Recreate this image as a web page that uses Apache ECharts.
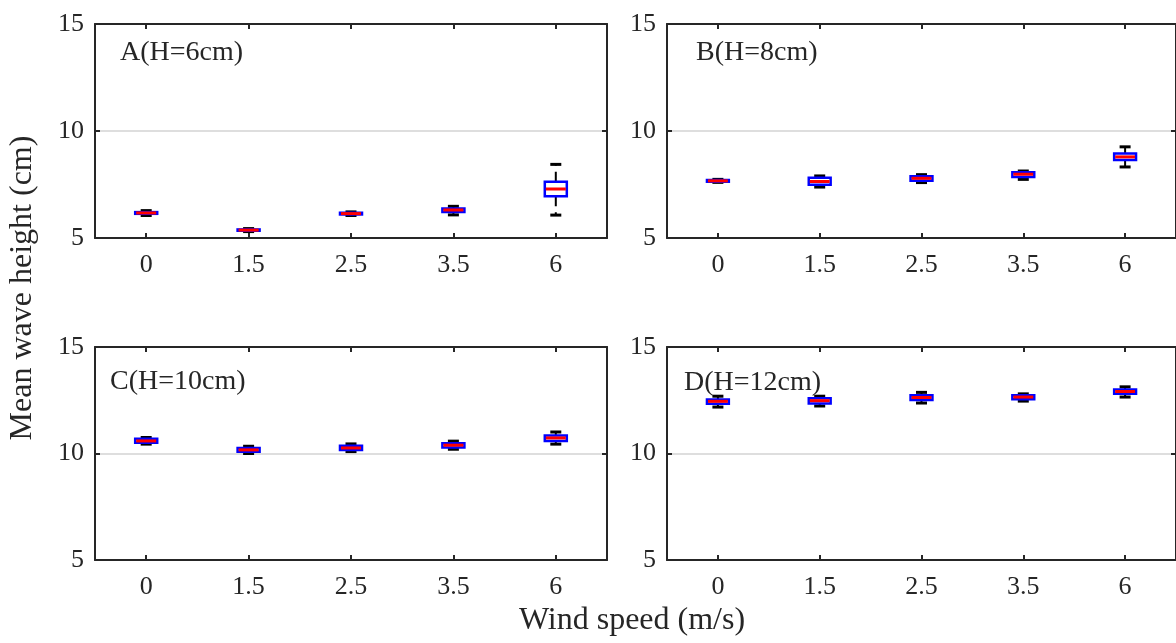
<!DOCTYPE html>
<html>
<head>
<meta charset="utf-8">
<script src="https://cdn.jsdelivr.net/npm/echarts@6/dist/echarts.min.js"></script>
<style>
html,body{margin:0;padding:0;background:#fff;}
#chart{width:1176px;height:643px;}
</style>
</head>
<body>
<div id="chart"></div>
<script>
// ---- data ----
const categories = ['0', '1.5', '2.5', '3.5', '6'];
const yTicks = [5, 10, 15];
const panelLabels = ['A(H=6cm)', 'B(H=8cm)', 'C(H=10cm)', 'D(H=12cm)'];
// each entry: [lower whisker, Q1, median, Q3, upper whisker]
const boxA = [
  [6.05, 6.13, 6.17, 6.21, 6.28],
  [5.30, 5.34, 5.37, 5.40, 5.44],
  [6.05, 6.10, 6.14, 6.18, 6.22],
  [6.08, 6.22, 6.31, 6.38, 6.48],
  [6.07, 6.95, 7.29, 7.63, 8.44]
];
const boxB = [
  [7.60, 7.63, 7.67, 7.71, 7.74],
  [7.38, 7.49, 7.64, 7.81, 7.90],
  [7.59, 7.68, 7.79, 7.88, 7.96],
  [7.74, 7.85, 7.98, 8.07, 8.13],
  [8.32, 8.64, 8.79, 8.95, 9.26]
];
const boxC = [
  [10.44, 10.50, 10.59, 10.69, 10.75],
  [10.00, 10.08, 10.17, 10.26, 10.34],
  [10.09, 10.16, 10.26, 10.36, 10.45],
  [10.20, 10.28, 10.39, 10.48, 10.58],
  [10.44, 10.59, 10.73, 10.84, 11.01]
];
const boxD = [
  [12.18, 12.34, 12.45, 12.54, 12.69],
  [12.23, 12.35, 12.48, 12.59, 12.69],
  [12.37, 12.51, 12.63, 12.74, 12.87],
  [12.46, 12.55, 12.65, 12.74, 12.80],
  [12.65, 12.80, 12.91, 13.00, 13.13]
];
const xTitle = 'Wind speed (m/s)';
const yTitle = 'Mean wave height (cm)';

// ---- layout ----
const FONT = 'Liberation Serif';
const TXT = '#262626';
const grids = [
  {left: 95, top: 24, width: 512, height: 214},
  {left: 667, top: 24, width: 512, height: 214},
  {left: 95, top: 347, width: 512, height: 213},
  {left: 667, top: 347, width: 512, height: 213}
];
const labelPos = [[120, 53], [696, 53], [110, 382], [684, 383]];
const panels = [boxA, boxB, boxC, boxD];

const axisLine = {show: true, onZero: false, lineStyle: {color: TXT, width: 2}};
const tick = {show: true, inside: true, length: 5, lineStyle: {color: TXT, width: 2}};

const xAxes = [], yAxes = [], series = [];
grids.forEach((g, i) => {
  xAxes.push({
    type: 'category', gridIndex: i, position: 'bottom', data: categories,
    axisLine: axisLine, axisTick: Object.assign({alignWithLabel: true}, tick),
    axisLabel: {fontFamily: FONT, fontSize: 26, color: TXT, margin: 14},
    splitLine: {show: false}
  });
  xAxes.push({
    type: 'category', gridIndex: i, position: 'top', data: categories,
    axisLine: axisLine, axisTick: Object.assign({alignWithLabel: true}, tick),
    axisLabel: {show: false}, splitLine: {show: false}
  });
  yAxes.push({
    type: 'value', gridIndex: i, position: 'left',
    min: yTicks[0], max: yTicks[yTicks.length - 1], interval: yTicks[1] - yTicks[0],
    axisLine: axisLine, axisTick: tick,
    axisLabel: {fontFamily: FONT, fontSize: 26, color: TXT, margin: 11},
    splitLine: {show: true, lineStyle: {color: '#dedede', width: 2}}
  });
  yAxes.push({
    type: 'value', gridIndex: i, position: 'right',
    min: yTicks[0], max: yTicks[yTicks.length - 1], interval: yTicks[1] - yTicks[0],
    axisLine: axisLine, axisTick: tick,
    axisLabel: {show: false}, splitLine: {show: false}
  });
  series.push({
    type: 'custom',
    xAxisIndex: i * 2, yAxisIndex: i * 2,
    data: panels[i].map((b, k) => [k].concat(b)),
    encode: {x: 0, y: [1, 2, 3, 4, 5]},
    z: 5,
    renderItem: function (params, api) {
      const c = api.value(0);
      const pMin = api.coord([c, api.value(1)]);
      const pQ1 = api.coord([c, api.value(2)]);
      const pMed = api.coord([c, api.value(3)]);
      const pQ3 = api.coord([c, api.value(4)]);
      const pMax = api.coord([c, api.value(5)]);
      const cx = pMed[0];
      const bw = api.size([1, 0])[0] * 0.215;
      const capW = 5.5;
      return {
        type: 'group',
        children: [
          {type: 'line', shape: {x1: cx, y1: pQ3[1], x2: cx, y2: pMax[1]},
           style: {stroke: '#000', lineWidth: 2, lineDash: [10, 6]}},
          {type: 'line', shape: {x1: cx, y1: pQ1[1], x2: cx, y2: pMin[1]},
           style: {stroke: '#000', lineWidth: 2, lineDash: [10, 6]}},
          {type: 'line', shape: {x1: cx - capW, y1: pMax[1], x2: cx + capW, y2: pMax[1]},
           style: {stroke: '#000', lineWidth: 3}},
          {type: 'line', shape: {x1: cx - capW, y1: pMin[1], x2: cx + capW, y2: pMin[1]},
           style: {stroke: '#000', lineWidth: 3}},
          {type: 'rect', shape: {x: cx - bw / 2, y: pQ3[1], width: bw, height: pQ1[1] - pQ3[1]},
           style: {stroke: '#0000ff', lineWidth: 2.5, fill: 'none'}},
          {type: 'line', shape: {x1: cx - bw / 2 + 1, y1: pMed[1], x2: cx + bw / 2 - 1, y2: pMed[1]},
           style: {stroke: '#ff0000', lineWidth: 3}}
        ]
      };
    }
  });
});

const graphics = panelLabels.map((t, i) => ({
  type: 'text', x: labelPos[i][0], y: labelPos[i][1], z: 10,
  style: {text: t, fontFamily: FONT, fontSize: 28, fill: TXT, align: 'left', verticalAlign: 'middle'}
}));
graphics.push({
  type: 'text', x: 632, y: 621, z: 10,
  style: {text: xTitle, fontFamily: FONT, fontSize: 32, fill: TXT, align: 'center', verticalAlign: 'middle'}
});
graphics.push({
  type: 'text', x: 23, y: 288, rotation: Math.PI / 2, z: 10,
  style: {text: yTitle, fontFamily: FONT, fontSize: 32, fill: TXT, align: 'center', verticalAlign: 'middle'}
});

const chart = echarts.init(document.getElementById('chart'), null, {renderer: 'canvas'});
chart.setOption({
  animation: false,
  backgroundColor: '#ffffff',
  grid: grids,
  xAxis: xAxes,
  yAxis: yAxes,
  series: series,
  graphic: graphics
});
</script>
</body>
</html>
